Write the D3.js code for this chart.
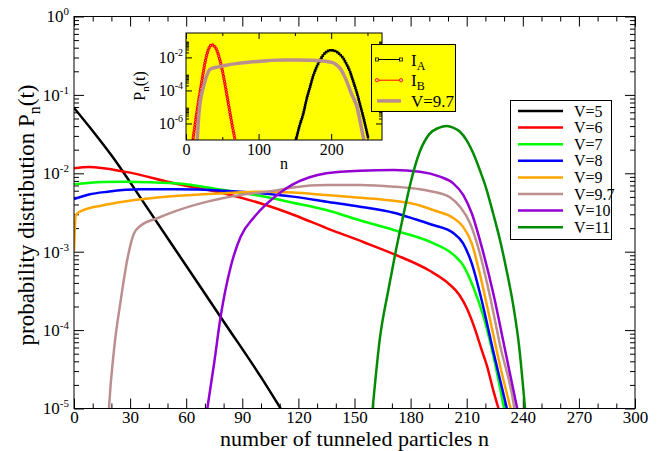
<!DOCTYPE html>
<html>
<head>
<meta charset="utf-8">
<script src="https://cdn.jsdelivr.net/npm/d3@7"></script>
<style>
  body { margin: 0; background: #fff; }
  svg { display: block; }
  text { font-family: "Liberation Serif", "Times New Roman", serif; fill: #000; }
</style>
</head>
<body>
<svg id="chart" width="659" height="451"></svg>
<script>
'use strict'

// legend labels
const labels = ['V=5', 'V=6', 'V=7', 'V=8', 'V=9', 'V=9.7', 'V=10', 'V=11'];

// main panel: n and P_n(t)
const v5_n = [0, 10, 20, 40, 60, 80, 100, 110.5];
const v5_p = [6.84e-2, 3.47e-2, 1.70e-2, 3.39e-3, 6.61e-4, 1.29e-4, 2.51e-5, 1e-5];

const v6_n = [0, 8, 27, 54, 80, 100, 118, 135, 155, 172, 190, 200, 206, 210, 214, 218, 221, 224, 227];
const v6_p = [1.16e-2, 1.20e-2, 1.05e-2, 7.41e-3, 5.56e-3, 4.12e-3, 2.92e-3, 2.0e-3, 1.32e-3, 9.12e-4, 5.75e-4, 3.98e-4, 2.82e-4, 1.91e-4, 1.10e-4, 5.6e-5, 3.4e-5, 1.78e-5, 1e-5];

const v7_n = [0, 15, 27, 54, 80, 100, 117, 135, 150, 174, 192, 203, 208, 213.5, 219, 224, 230];
const v7_p = [7.24e-3, 7.76e-3, 7.82e-3, 7.45e-3, 6.12e-3, 5.13e-3, 4.22e-3, 3.40e-3, 2.63e-3, 1.80e-3, 1.29e-3, 9.12e-4, 6.76e-4, 3.55e-4, 1.48e-4, 5.0e-5, 1e-5];

const v8_n = [0, 8, 18, 36, 54, 80, 100, 117, 135, 153, 171, 183, 192, 203, 208, 212.7, 218, 224, 231.5];
const v8_p = [4.70e-3, 5.37e-3, 5.82e-3, 6.24e-3, 6.25e-3, 6.0e-3, 5.56e-3, 5.04e-3, 4.35e-3, 3.75e-3, 3.14e-3, 2.57e-3, 2.19e-3, 1.72e-3, 1.29e-3, 7.08e-4, 2.40e-4, 5.62e-5, 1e-5];

const v9_n = [0, 1, 5, 15, 27, 54, 80, 100, 117, 135, 153, 171, 185, 192, 203, 208, 212.7, 217, 222.5, 228, 233.5];
const v9_p = [1.03e-3, 2.95e-3, 3.39e-3, 3.89e-3, 4.37e-3, 5.13e-3, 5.56e-3, 5.82e-3, 5.69e-3, 5.28e-3, 4.89e-3, 4.47e-3, 3.89e-3, 3.40e-3, 2.67e-3, 2.09e-3, 1.28e-3, 5.25e-4, 1.35e-4, 3.39e-5, 1e-5];

const v97_n = [15.5, 16.8, 18.7, 21.4, 25, 28.5, 32, 35.6, 44.6, 53.5, 71.3, 89, 107, 117, 135, 153, 171, 185, 192, 201, 206.4, 211.8, 217, 222.5, 228, 235.5, 240, 245];
const v97_p = [1e-7, 1e-6, 1e-5, 5.62e-5, 2.40e-4, 7.94e-4, 1.70e-3, 2.14e-3, 2.67e-3, 3.24e-3, 4.35e-3, 5.28e-3, 6.0e-3, 6.61e-3, 7.08e-3, 7.08e-3, 6.76e-3, 6.25e-3, 5.82e-3, 4.94e-3, 3.75e-3, 2.30e-3, 9.55e-4, 2.67e-4, 6.17e-5, 1e-5, 1.26e-6, 1e-7];

const v10_n = [71.3, 74.9, 78.4, 83.8, 89.1, 96.3, 103, 110, 117, 126, 135, 153, 171, 185, 195.7, 202.8, 208.2, 212.7, 218, 224.2, 230.5, 237];
const v10_p = [1e-5, 3.72e-5, 1.48e-4, 6.44e-4, 1.55e-3, 2.75e-3, 4.07e-3, 5.62e-3, 7.24e-3, 8.91e-3, 1.0e-2, 1.08e-2, 1.10e-2, 1.05e-2, 9.06e-3, 7.45e-3, 5.28e-3, 3.09e-3, 1.16e-3, 2.95e-4, 5.62e-5, 1e-5];

const v11_n = [159.7, 163.6, 168, 172, 176, 180, 185, 190, 195, 199.3, 203, 206.4, 210, 213.5, 217, 220.7, 224, 227.8, 231, 235, 238, 241.2];
const v11_p = [1e-5, 7.94e-5, 3.16e-4, 1.0e-3, 2.82e-3, 7.59e-3, 1.91e-2, 3.16e-2, 3.80e-2, 4.01e-2, 3.80e-2, 3.39e-2, 2.63e-2, 1.80e-2, 1.10e-2, 6.12e-3, 3.16e-3, 1.41e-3, 6.31e-4, 2.0e-4, 6.31e-5, 1e-5];

// inset: the two currents
const ia_n = [151.5, 156, 161.6, 166, 170.8, 175, 180, 185, 189, 194, 199, 203, 207.5, 212, 216.7, 221, 226, 230, 235, 240, 244.2, 248, 251.1];
const ia_p = [1e-7, 6.31e-7, 3.98e-6, 2.82e-5, 1.58e-4, 7.08e-4, 2.69e-3, 7.08e-3, 1.38e-2, 2.24e-2, 2.69e-2, 2.63e-2, 2.19e-2, 1.51e-2, 8.71e-3, 3.98e-3, 1.35e-3, 3.98e-4, 8.32e-5, 1.26e-5, 2.51e-6, 5.01e-7, 1.26e-7];

const ib_n = [9.5, 12, 14.7, 18, 21.6, 24, 26.5, 29, 31, 33, 35.4, 38, 42.3, 46, 49.2, 53, 56, 59, 63, 67.5];
const ib_p = [1e-7, 6.31e-7, 3.98e-6, 3.55e-5, 3.16e-4, 1.41e-3, 5.62e-3, 1.66e-2, 3.16e-2, 4.68e-2, 5.75e-2, 5.25e-2, 2.82e-2, 8.91e-3, 2.40e-3, 3.55e-4, 6.31e-5, 1.12e-5, 1.12e-6, 1.12e-7];

// ticks
const xTicks = [0, 30, 60, 90, 120, 150, 180, 210, 240, 270, 300];
const yTicks = [1, 1e-1, 1e-2, 1e-3, 1e-4, 1e-5];
const insetXTicks = [0, 100, 200];
const insetYTicks = [1e-2, 1e-4, 1e-6];

const colors = ['#000000', '#ff0000', '#00ff00', '#0000ff', '#ffa500', '#bc8f8f', '#9400d3', '#008b00'];

const series = [
  [v5_n, v5_p], [v6_n, v6_p], [v7_n, v7_p], [v8_n, v8_p],
  [v9_n, v9_p], [v97_n, v97_p], [v10_n, v10_p], [v11_n, v11_p]
].map((s, i) => ({ label: labels[i], points: d3.zip(s[0], s[1]) }));

const svg = d3.select('#chart');

// main panel frame
const frameL = 74, frameR = 635, frameT = 16.5, frameB = 408.5;

const x = d3.scaleLinear().domain([0, 300]).range([frameL, frameR]);
const y = d3.scaleLog().domain([1e-5, 1]).range([frameB, frameT]);

const defs = svg.append('defs');
defs.append('clipPath').attr('id', 'clip-main').append('rect')
  .attr('x', frameL).attr('y', frameT).attr('width', frameR - frameL).attr('height', frameB - frameT);

// minor ticks for a log axis: 2..9 times each major
function logMinors(majors, domain) {
  const out = [];
  majors.forEach(m => d3.range(2, 10).forEach(j => {
    const v = m * j;
    if (v > domain[0] && v < domain[1]) out.push(v);
  }));
  return out;
}

function supLabels(g, size, supSize) {
  g.selectAll('.tick text').each(function (d) {
    const t = d3.select(this);
    t.text(null).style('font-size', size + 'px');
    t.append('tspan').text('10');
    t.append('tspan').attr('dy', -size * 0.42).style('font-size', supSize + 'px')
      .text(Math.round(Math.log10(d)));
  });
}

function clean(g) {
  g.select('.domain').remove();
  g.attr('font-family', null).attr('font-size', null);
  g.selectAll('.tick line').attr('stroke', '#000');
}

// main axes
const xMinor = d3.range(0, 301, 10).filter(v => v % 30 !== 0);
const yMinor = logMinors([1e-5, 1e-4, 1e-3, 1e-2, 1e-1], [1e-5, 1]);

svg.append('g').attr('transform', `translate(0,${frameB})`)
  .call(d3.axisBottom(x).tickValues(xMinor).tickSize(-5).tickFormat('')).call(clean);
svg.append('g').attr('transform', `translate(0,${frameB})`)
  .call(d3.axisBottom(x).tickValues(xTicks).tickSize(-10).tickPadding(2).tickFormat(d3.format('d')))
  .call(clean)
  .call(g => g.selectAll('.tick text').style('font-size', '17px'));
svg.append('g').attr('transform', `translate(0,${frameT})`)
  .call(d3.axisTop(x).tickValues(xMinor).tickSize(-5).tickFormat('')).call(clean);
svg.append('g').attr('transform', `translate(0,${frameT})`)
  .call(d3.axisTop(x).tickValues(xTicks).tickSize(-10).tickFormat('')).call(clean);

svg.append('g').attr('transform', `translate(${frameL},0)`)
  .call(d3.axisLeft(y).tickValues(yMinor).tickSize(-5).tickFormat('')).call(clean);
svg.append('g').attr('transform', `translate(${frameL},0)`)
  .call(d3.axisLeft(y).tickValues(yTicks).tickSize(-10).tickPadding(5))
  .call(clean)
  .call(g => supLabels(g, 17, 11));
svg.append('g').attr('transform', `translate(${frameR},0)`)
  .call(d3.axisRight(y).tickValues(yMinor).tickSize(-5).tickFormat('')).call(clean);
svg.append('g').attr('transform', `translate(${frameR},0)`)
  .call(d3.axisRight(y).tickValues(yTicks).tickSize(-10).tickFormat('')).call(clean);

// curves
const line = d3.line().curve(d3.curveMonotoneX).x(d => x(d[0])).y(d => y(d[1]));
const curves = svg.append('g').attr('clip-path', 'url(#clip-main)');
series.forEach((s, i) => {
  curves.append('path')
    .datum(s.points)
    .attr('d', line)
    .attr('fill', 'none')
    .attr('stroke', colors[i])
    .attr('stroke-width', 2.5)
    .attr('stroke-linejoin', 'round');
});

svg.append('rect')
  .attr('x', frameL).attr('y', frameT).attr('width', frameR - frameL).attr('height', frameB - frameT)
  .attr('fill', 'none').attr('stroke', '#000');

// axis titles
svg.append('text')
  .attr('x', (frameL + frameR) / 2).attr('y', 445.5)
  .attr('text-anchor', 'middle').style('font-size', '22px')
  .text('number of tunneled particles n');

const yTitle = svg.append('text')
  .attr('transform', 'translate(34,215) rotate(-90)')
  .attr('text-anchor', 'middle').style('font-size', '23px');
yTitle.append('tspan').text('probability distribution P');
yTitle.append('tspan').attr('dy', 6).style('font-size', '16px').text('n');
yTitle.append('tspan').attr('dy', -6).text('(t)');

// legend
const legend = svg.append('g');
legend.append('rect')
  .attr('x', 510.5).attr('y', 100.5).attr('width', 101).attr('height', 139)
  .attr('fill', '#fff').attr('stroke', '#000');
labels.forEach((l, i) => {
  const ly = 111 + i * 16.6;
  legend.append('line')
    .attr('x1', 518).attr('x2', 563).attr('y1', ly).attr('y2', ly)
    .attr('stroke', colors[i]).attr('stroke-width', 2.5);
  legend.append('text')
    .attr('x', 574).attr('y', ly + 5.5).style('font-size', '16px').text(l);
});

// inset
const iLeft = 186, iRight = 382, iTop = 33, iBottom = 140;
const ix = d3.scaleLinear().domain([0, 270]).range([iLeft, iRight]);
const iy = d3.scaleLog().domain([1e-7, 0.3]).range([iBottom, iTop]);

defs.append('clipPath').attr('id', 'clip-inset').append('rect')
  .attr('x', iLeft).attr('y', iTop).attr('width', iRight - iLeft).attr('height', iBottom - iTop);

svg.append('rect')
  .attr('x', iLeft).attr('y', iTop).attr('width', iRight - iLeft).attr('height', iBottom - iTop)
  .attr('fill', '#ffff00');

const iline = d3.line().curve(d3.curveMonotoneX).x(d => ix(d[0])).y(d => iy(d[1]));
const inset = svg.append('g').attr('clip-path', 'url(#clip-inset)');

// I_A: black line with dense square markers
const iaPts = d3.zip(ia_n, ia_p);
inset.append('path').datum(iaPts).attr('d', iline)
  .attr('fill', 'none').attr('stroke', '#000').attr('stroke-width', 1);
inset.append('path').datum(iaPts).attr('d', iline)
  .attr('fill', 'none').attr('stroke', '#000').attr('stroke-width', 2.6)
  .attr('stroke-linecap', 'square').attr('stroke-dasharray', '0 2.4');

// I_B: red line with dense circle markers
const ibPts = d3.zip(ib_n, ib_p);
inset.append('path').datum(ibPts).attr('d', iline)
  .attr('fill', 'none').attr('stroke', '#ff0000').attr('stroke-width', 1);
inset.append('path').datum(ibPts).attr('d', iline)
  .attr('fill', 'none').attr('stroke', '#ff0000').attr('stroke-width', 3.4)
  .attr('stroke-linecap', 'round').attr('stroke-dasharray', '0 2.6');
inset.append('path').datum(ibPts).attr('d', iline)
  .attr('fill', 'none').attr('stroke', '#ffb0a0').attr('stroke-width', 1.1)
  .attr('stroke-linecap', 'round').attr('stroke-dasharray', '0 2.6');

// V=9.7 again, thicker
inset.append('path').datum(d3.zip(v97_n, v97_p)).attr('d', iline)
  .attr('fill', 'none').attr('stroke', colors[5]).attr('stroke-width', 3.5)
  .attr('stroke-linejoin', 'round');

const iyMinor = logMinors([1e-8, 1e-6, 1e-4, 1e-2], [1e-7, 0.3]);
const ixMinor = [50, 150, 250];

svg.append('g').attr('transform', `translate(0,${iBottom})`)
  .call(d3.axisBottom(ix).tickValues(ixMinor).tickSize(-3).tickFormat('')).call(clean);
svg.append('g').attr('transform', `translate(0,${iBottom})`)
  .call(d3.axisBottom(ix).tickValues(insetXTicks).tickSize(-6).tickPadding(4).tickFormat(d3.format('d')))
  .call(clean)
  .call(g => g.selectAll('.tick text').style('font-size', '16px'));
svg.append('g').attr('transform', `translate(0,${iTop})`)
  .call(d3.axisTop(ix).tickValues(ixMinor).tickSize(-3).tickFormat('')).call(clean);
svg.append('g').attr('transform', `translate(0,${iTop})`)
  .call(d3.axisTop(ix).tickValues(insetXTicks).tickSize(-6).tickFormat('')).call(clean);

svg.append('g').attr('transform', `translate(${iLeft},0)`)
  .call(d3.axisLeft(iy).tickValues(iyMinor).tickSize(-3).tickFormat('')).call(clean);
svg.append('g').attr('transform', `translate(${iLeft},0)`)
  .call(d3.axisLeft(iy).tickValues(insetYTicks).tickSize(-6).tickPadding(3))
  .call(clean)
  .call(g => supLabels(g, 16, 10));
svg.append('g').attr('transform', `translate(${iRight},0)`)
  .call(d3.axisRight(iy).tickValues(iyMinor).tickSize(-3).tickFormat('')).call(clean);
svg.append('g').attr('transform', `translate(${iRight},0)`)
  .call(d3.axisRight(iy).tickValues(insetYTicks).tickSize(-6).tickFormat('')).call(clean);

svg.append('rect')
  .attr('x', iLeft).attr('y', iTop).attr('width', iRight - iLeft).attr('height', iBottom - iTop)
  .attr('fill', 'none').attr('stroke', '#000');

svg.append('text')
  .attr('x', (iLeft + iRight) / 2).attr('y', 169)
  .attr('text-anchor', 'middle').style('font-size', '16px').text('n');

const iyTitle = svg.append('text')
  .attr('transform', 'translate(145,86) rotate(-90)')
  .attr('text-anchor', 'middle').style('font-size', '16px');
iyTitle.append('tspan').text('P');
iyTitle.append('tspan').attr('dy', 4).style('font-size', '11px').text('n');
iyTitle.append('tspan').attr('dy', -4).text('(t)');

// inset legend
const ileg = svg.append('g');
ileg.append('rect')
  .attr('x', 371.5).attr('y', 44.5).attr('width', 84).attr('height', 67)
  .attr('fill', '#ffff00').attr('stroke', '#000');

const ilegRows = [
  { name: 'I', sub: 'A', color: '#000', marker: 'square' },
  { name: 'I', sub: 'B', color: '#ff0000', marker: 'circle' },
  { name: 'V=9.7', sub: '', color: colors[5], marker: null }
];
ilegRows.forEach((r, i) => {
  const ly = 59.5 + i * 20.7;
  ileg.append('line')
    .attr('x1', 377).attr('x2', 401).attr('y1', ly).attr('y2', ly)
    .attr('stroke', r.color).attr('stroke-width', r.marker ? 1 : 3.5);
  if (r.marker === 'square') {
    [377, 401].forEach(mx => ileg.append('rect')
      .attr('x', mx - 1.5).attr('y', ly - 1.5).attr('width', 3).attr('height', 3)
      .attr('fill', '#ffff00').attr('stroke', '#000').attr('stroke-width', 0.8));
  } else if (r.marker === 'circle') {
    [377, 401].forEach(mx => ileg.append('circle')
      .attr('cx', mx).attr('cy', ly).attr('r', 1.7)
      .attr('fill', '#ffb0a0').attr('stroke', '#ff0000').attr('stroke-width', 0.8));
  }
  const t = ileg.append('text').attr('x', 411).attr('y', ly + 6).style('font-size', '17px');
  t.append('tspan').text(r.name);
  if (r.sub) t.append('tspan').attr('dy', 4).style('font-size', '12px').text(r.sub);
});
</script>
</body>
</html>
